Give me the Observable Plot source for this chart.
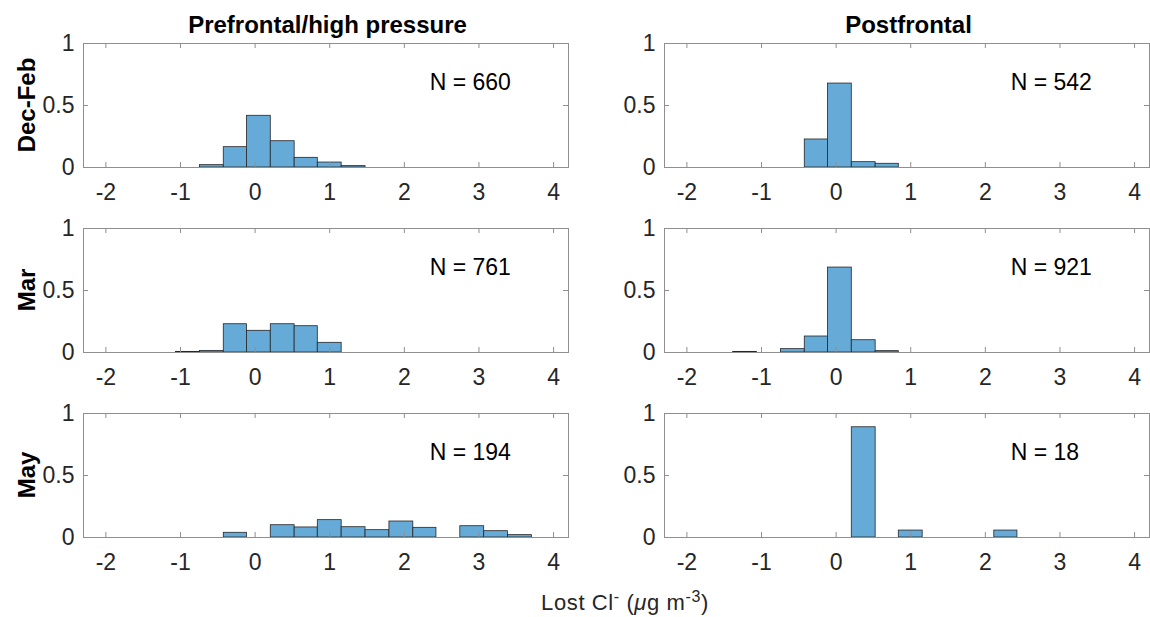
<!DOCTYPE html>
<html><head><meta charset="utf-8">
<script src="https://cdn.jsdelivr.net/npm/d3@7"></script>
<script src="https://cdn.jsdelivr.net/npm/@observablehq/plot@0.6"></script>
<style>
body{margin:0;background:#fff;overflow:hidden;}
#chart{position:relative;width:1150px;height:617px;font-family:"Liberation Sans",Arial,Helvetica,sans-serif;color:#262626;}
.t{position:absolute;white-space:nowrap;line-height:24px;}
.title{font-weight:bold;font-size:24px;color:#000;transform:translateX(-50%);}
.row{font-weight:bold;font-size:24px;color:#000;transform:translate(-50%,-50%) rotate(-90deg);}
.xl{font-size:22px;letter-spacing:0.6px;transform:translateX(-50%);}
.xl sup{font-size:16px;line-height:0;vertical-align:0.5em;}
svg{position:absolute;}
</style></head><body><div id="chart"></div>
<script>
// ---- data ----
const seasons = ["Dec-Feb", "Mar", "May"];
const regimes = ["Prefrontal/high pressure", "Postfrontal"];
const binEdges = [-1.38, -1.06, -0.74, -0.42, -0.11, 0.21, 0.53, 0.84, 1.16, 1.48, 1.80, 2.12, 2.43, 2.75, 3.07, 3.39, 3.71];
const decFebPre  = [0, 0, 0.019, 0.164, 0.417, 0.212, 0.078, 0.040, 0.011, 0, 0, 0, 0, 0, 0, 0];
const decFebPost = [0, 0, 0, 0.226, 0.677, 0.043, 0.030, 0, 0, 0, 0, 0, 0, 0, 0, 0];
const marPre     = [0, 0.005, 0.013, 0.228, 0.175, 0.228, 0.212, 0.078, 0, 0, 0, 0, 0, 0, 0, 0];
const marPost    = [0.005, 0, 0.027, 0.129, 0.685, 0.099, 0.011, 0, 0, 0, 0, 0, 0, 0, 0, 0];
const mayPre     = [0, 0, 0, 0.038, 0, 0.099, 0.081, 0.140, 0.083, 0.059, 0.129, 0.078, 0, 0.091, 0.051, 0.019];
const mayPost    = [0, 0, 0, 0, 0, 0.889, 0, 0.056, 0, 0, 0, 0.056, 0, 0, 0, 0];
const nCounts = [[660, 542], [761, 921], [194, 18]];
const xTicks = [-2, -1, 0, 1, 2, 3, 4];
const yTicks = [0, 0.5, 1];
const xDomain = [-2.3, 4.2];
const yDomain = [0, 1];
const nLabelPos = {x: 2.34, y: 0.685};

// ---- layout ----
const values = [[decFebPre, decFebPost], [marPre, marPost], [mayPre, mayPost]];
const colLeft = [83, 664];
const rowTop = [43, 228, 413];
const fw = 485, fh = 124;
const mL = 50, mR = 1, mT = 2, mB = 40;
const axisColor = "#8f8f8f";
const tick = 5;
const fmt = d => String(d);

const chart = document.getElementById("chart");

function bins(vals) {
  return vals.map((v, i) => ({x1: binEdges[i], x2: binEdges[i + 1], p: v})).filter(d => d.p > 0);
}

values.forEach((row, r) => {
  row.forEach((vals, c) => {
    const svg = Plot.plot({
      width: fw + mL + mR,
      height: fh + mT + mB,
      marginLeft: mL, marginRight: mR, marginTop: mT, marginBottom: mB,
      x: {domain: xDomain, axis: null},
      y: {domain: yDomain, axis: null},
      style: {fontFamily: '"Liberation Sans", Arial, Helvetica, sans-serif', color: "#262626", background: "transparent", overflow: "visible"},
      marks: [
        Plot.rectY(bins(vals), {x1: "x1", x2: "x2", y: "p", fill: "#66aad7", stroke: "#262626", strokeWidth: 0.8, inset: 0}),
        Plot.frame({stroke: axisColor}),
        Plot.tickX(xTicks, {x: d => d, insetTop: fh - tick, stroke: axisColor}),
        Plot.tickX(xTicks, {x: d => d, insetBottom: fh - tick, stroke: axisColor}),
        Plot.tickY(yTicks, {y: d => d, insetRight: fw - tick, stroke: axisColor}),
        Plot.tickY(yTicks, {y: d => d, insetLeft: fw - tick, stroke: axisColor}),
        Plot.axisX(xTicks, {tickSize: 0, tickPadding: 16, fontSize: 23, label: null, fill: "#262626", tickFormat: fmt}),
        Plot.axisY(yTicks, {tickSize: 0, tickPadding: 9, fontSize: 23, label: null, fill: "#262626", tickFormat: fmt}),
        Plot.text([{x: nLabelPos.x, y: nLabelPos.y, label: `N = ${nCounts[r][c]}`}],
          {x: "x", y: "y", text: "label", textAnchor: "start", fontSize: 23, fill: "#000"})
      ]
    });
    svg.style.left = (colLeft[c] - mL) + "px";
    svg.style.top = (rowTop[r] - mT) + "px";
    chart.appendChild(svg);
  });
});

// column titles
regimes.forEach((name, c) => {
  const d = document.createElement("div");
  d.className = "t title";
  d.textContent = name;
  d.style.left = (colLeft[c] + fw / 2 + 2) + "px";
  d.style.top = "13px";
  chart.appendChild(d);
});
// row labels
seasons.forEach((name, r) => {
  const d = document.createElement("div");
  d.className = "t row";
  d.textContent = name;
  d.style.left = "27px";
  d.style.top = (rowTop[r] + fh / 2) + "px";
  chart.appendChild(d);
});
// x label
const xl = document.createElement("div");
xl.className = "t xl";
xl.innerHTML = 'Lost Cl<sup>-</sup> (<i>&mu;</i>g m<sup>-3</sup>)';
xl.style.left = "625px";
xl.style.top = "591px";
chart.appendChild(xl);
</script>
</body></html>
